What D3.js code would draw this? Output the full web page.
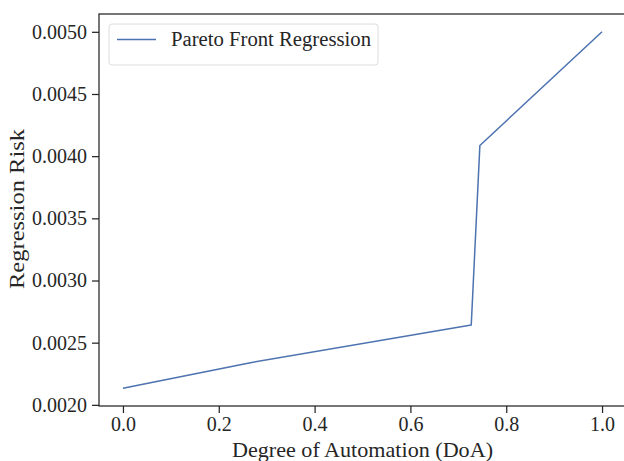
<!DOCTYPE html>
<html>
<head>
<meta charset="utf-8">
<script src="https://cdn.jsdelivr.net/npm/d3@7"></script>
<style>
  html, body { margin: 0; padding: 0; background: #fff; }
  svg { display: block; }
  text { font-family: "Liberation Serif", "DejaVu Serif", serif; fill: #262626; }
</style>
</head>
<body>
<svg id="chart" width="624" height="461"></svg>
<script>
// Data
const doa = [0.0, 0.266, 0.727, 0.745, 1.0];
const risk = [0.002134, 0.002339, 0.002642, 0.004086, 0.0050];
const seriesName = "Pareto Front Regression";
const xTicks = [0.0, 0.2, 0.4, 0.6, 0.8, 1.0];
const yTicks = [0.0020, 0.0025, 0.0030, 0.0035, 0.0040, 0.0045, 0.0050];
const xLabel = "Degree of Automation (DoA)";
const yLabel = "Regression Risk";

(function () {
const svg = d3.select("#chart");
const pL = 99, pR = 626, pT = 14, pB = 406;
const ink = "#262626";
const lineColor = "#4c72b0";

const xMin = d3.min(doa), xMax = d3.max(doa);
const yMin = d3.min(risk), yMax = d3.max(risk);
const xm = (xMax - xMin) * 0.05, ym = (yMax - yMin) * 0.05;

const x = d3.scaleLinear().domain([xMin - xm, xMax + xm]).range([pL, pR]);
const y = d3.scaleLinear().domain([yMin - ym, yMax + ym]).range([pB, pT]);

const fs = 20;

// Line
const pts = doa.map((d, i) => [d, risk[i]]);
svg.append("path")
  .datum(pts)
  .attr("fill", "none")
  .attr("stroke", lineColor)
  .attr("stroke-width", 1.5)
  .attr("stroke-linejoin", "round")
  .attr("d", d3.line().x(d => x(d[0])).y(d => y(d[1])));

// Axes
const xAxis = d3.axisBottom(x).tickValues(xTicks).tickFormat(d3.format(".1f")).tickSize(7).tickPadding(4);
const yAxis = d3.axisLeft(y).tickValues(yTicks).tickFormat(d3.format(".4f")).tickSize(7).tickPadding(5);

const gx = svg.append("g").attr("transform", `translate(0,${pB})`).call(xAxis);
const gy = svg.append("g").attr("transform", `translate(${pL},0)`).call(yAxis);
[gx, gy].forEach(g => {
  g.select(".domain").remove();
  g.selectAll(".tick line").attr("stroke", ink).attr("stroke-width", 1.25);
  g.selectAll(".tick text").attr("font-size", fs).attr("fill", ink)
    .style("font-family", '"Liberation Serif", "DejaVu Serif", serif');
});

// Spines (frame)
svg.append("rect")
  .attr("x", pL).attr("y", pT)
  .attr("width", pR - pL).attr("height", pB - pT)
  .attr("fill", "none").attr("stroke", ink).attr("stroke-width", 1.25);

// Axis labels
svg.append("text")
  .attr("x", 362.5).attr("y", 457)
  .attr("text-anchor", "middle").attr("font-size", 22)
  .attr("textLength", 261).attr("lengthAdjust", "spacingAndGlyphs")
  .text(xLabel);
svg.append("text")
  .attr("transform", `translate(24,209) rotate(-90)`)
  .attr("text-anchor", "middle").attr("font-size", 22)
  .attr("textLength", 160).attr("lengthAdjust", "spacingAndGlyphs")
  .text(yLabel);

// Legend
const lg = svg.append("g");
lg.append("rect")
  .attr("x", 109).attr("y", 24).attr("width", 269).attr("height", 41)
  .attr("rx", 3).attr("fill", "#fff").attr("fill-opacity", 0.8)
  .attr("stroke", "#dcdcdc").attr("stroke-width", 1);
lg.append("line")
  .attr("x1", 117).attr("x2", 156).attr("y1", 39.5).attr("y2", 39.5)
  .attr("stroke", lineColor).attr("stroke-width", 1.5);
lg.append("text")
  .attr("x", 171).attr("y", 46).attr("font-size", 20.5)
  .attr("textLength", 200).attr("lengthAdjust", "spacingAndGlyphs")
  .text(seriesName);
})();
</script>
</body>
</html>
